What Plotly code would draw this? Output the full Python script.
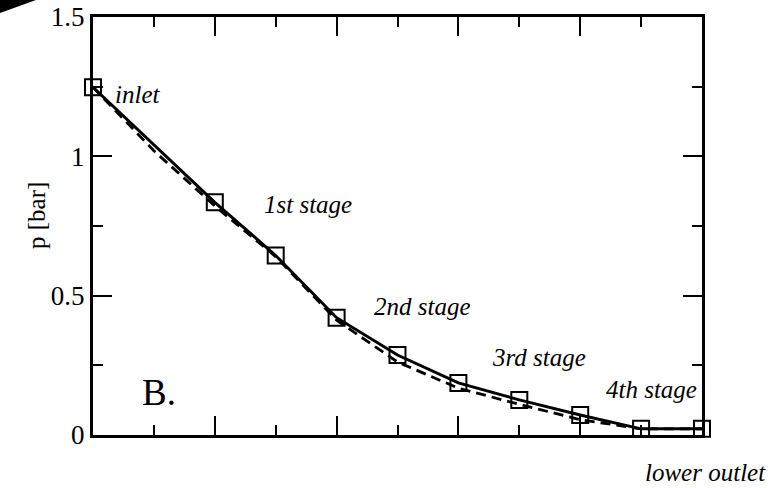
import plotly.graph_objects as go

# data
x_pos = [0, 2, 3, 4, 5, 6, 7, 8, 9, 10]
p_solid = [1.248, 0.835, 0.644, 0.421, 0.287, 0.187, 0.126, 0.072, 0.022, 0.022]
x_dash = [0, 1, 2, 3, 4, 5, 6, 7, 8, 9, 10]
p_dash = [1.248, 1.02, 0.822, 0.64, 0.412, 0.262, 0.168, 0.11, 0.055, 0.022, 0.022]

labels = ["inlet", "1st stage", "2nd stage", "3rd stage", "4th stage"]
label_x = [0.33, 2.78, 4.58, 6.52, 8.39]
label_y = [1.223, 0.827, 0.46, 0.277, 0.162]

outlet_label = "lower outlet"
y_title = "p [bar]"
panel = "B."

FONT = "'Liberation Serif', 'Times New Roman', 'DejaVu Serif', serif"

fig = go.Figure()
fig.add_trace(go.Scatter(x=x_dash, y=p_dash, mode="lines",
                         line=dict(color="black", width=2.8, dash="10px,6px"),
                         showlegend=False, cliponaxis=False))
fig.add_trace(go.Scatter(x=x_pos, y=p_solid, mode="lines+markers",
                         line=dict(color="black", width=3),
                         marker=dict(symbol="square-open", size=16,
                                     color="black", line=dict(width=2)),
                         showlegend=False, cliponaxis=False))

for t, xx, yy in zip(labels, label_x, label_y):
    fig.add_annotation(x=xx, y=yy, text="<i>" + t + "</i>", showarrow=False,
                       xanchor="left", yanchor="middle",
                       font=dict(family=FONT, size=25, color="black"))
fig.add_annotation(x=(643 - 93) / 609, y=(435 - 472) / 418, xref="paper", yref="paper",
                   text="<i>" + outlet_label + "</i>", showarrow=False,
                   xanchor="left", yanchor="middle",
                   font=dict(family=FONT, size=25, color="black"))
fig.add_annotation(x=0.77, y=0.151, text=panel, showarrow=False,
                   xanchor="left", yanchor="middle",
                   font=dict(family=FONT, size=37, color="black"))
# y-axis title
fig.add_annotation(x=(36 - 93) / 609, y=(435 - 216) / 418, xref="paper", yref="paper",
                   text=y_title, showarrow=False, textangle=-90,
                   xanchor="center", yanchor="middle",
                   font=dict(family=FONT, size=25, color="black"))

# small dark corner artefact at top-left
def px(xp):
    return (xp - 93) / 609
def py(yp):
    return (435 - yp) / 418
path = "M {} {} L {} {} L {} {} Z".format(
    px(0), py(0), px(36), py(0), px(0), py(13))
fig.add_shape(type="path", path=path, xref="paper", yref="paper",
              fillcolor="black", line=dict(width=0))

fig.update_xaxes(range=[0, 10], showline=True, linecolor="black", linewidth=3,
                 mirror="ticks", ticks="inside", ticklen=19, tickwidth=2,
                 tickcolor="black", dtick=2, tick0=0, showticklabels=False,
                 showgrid=False, zeroline=False,
                 minor=dict(dtick=1, tick0=0, ticks="inside", ticklen=10,
                            tickwidth=2, tickcolor="black", showgrid=False))
fig.update_yaxes(range=[0, 1.5], showline=True, linecolor="black", linewidth=3,
                 mirror="ticks", ticks="inside", ticklen=19, tickwidth=2,
                 tickcolor="black", tickvals=[0, 0.5, 1, 1.5],
                 ticktext=["0", "0.5", "1", "1.5"],
                 tickfont=dict(family=FONT, size=27, color="black"),
                 showgrid=False, zeroline=False,
                 minor=dict(dtick=0.25, tick0=0, ticks="inside", ticklen=10,
                            tickwidth=2, tickcolor="black", showgrid=False))

fig.update_layout(width=773, height=488,
                  font=dict(family=FONT, color="black"),
                  margin=dict(l=93, r=71, t=17, b=53, autoexpand=False),
                  plot_bgcolor="white", paper_bgcolor="white")

fig.write_html("out.html")
